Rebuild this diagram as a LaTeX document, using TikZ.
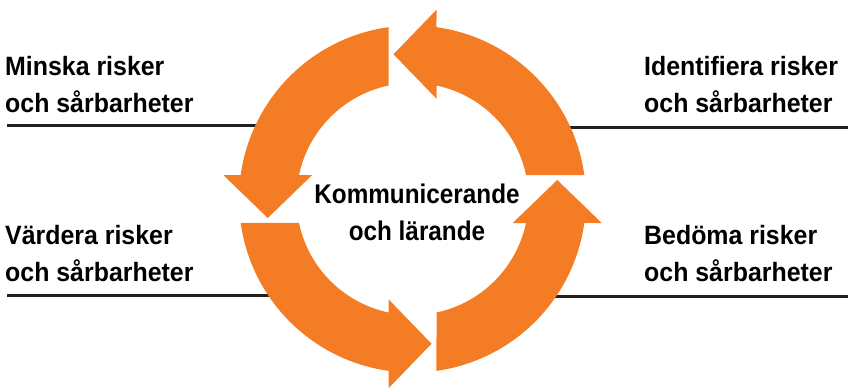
\documentclass[tikz,border=0pt]{standalone}
\usepackage{fontspec}
\newfontfamily\sidefont{Liberation Sans Bold}[FakeStretch=0.94]
\newfontfamily\midfont{Liberation Sans Bold}[FakeStretch=0.9]
\definecolor{ringorange}{RGB}{244,124,36}
\definecolor{rulecol}{RGB}{35,31,32}
\tikzset{
  rulestyle/.style={draw=rulecol, line width=3pt},
  sidelabel/.style={inner sep=0pt, align=left, font=\sidefont\fontsize{26.5}{37}\selectfont},
  midlabel/.style={inner sep=0pt, align=center, font=\midfont\fontsize{27}{37}\selectfont},
  ringpart/.style={fill=ringorange}
}
\begin{document}
\begin{tikzpicture}[x=1pt,y=-1pt]
\useasboundingbox (0,0) rectangle (852,388);
% rules
\coordinate (ltA) at (7,125.5);   \coordinate (ltB) at (300,125.5);
\coordinate (rtA) at (530,127);   \coordinate (rtB) at (848,127);
\coordinate (lbA) at (7,295.5);   \coordinate (lbB) at (310,295.5);
\coordinate (rbA) at (520,296);   \coordinate (rbB) at (848,296);
\draw[rulestyle] (ltA) -- (ltB);
\draw[rulestyle] (rtA) -- (rtB);
\draw[rulestyle] (lbA) -- (lbB);
\draw[rulestyle] (rbA) -- (rbB);
% ring of four arrows
\begin{scope}[shift={(412.5,199)}]
\foreach \a in {0,90,180,270}{
  \fill[ringpart, rotate=\a]
    (7.95:173.5pt) arc[start angle=7.95, end angle=82.05, radius=173.5pt]
    -- (24pt,189.25pt) -- (-19pt,144.75pt) -- (24pt,100.25pt)
    -- (78.06:116pt) arc[start angle=78.06, end angle=11.94, radius=116pt]
    -- cycle;
}
\end{scope}
% labels (base anchor = baseline of the last line)
\node[sidelabel, anchor=base west] (minska) at (5,112.5) {Minska risker\\och sårbarheter};
\node[sidelabel, anchor=base west] (ident) at (644,112.5) {Identifiera risker\\och sårbarheter};
\node[sidelabel, anchor=base west] (vard) at (5,281) {Värdera risker\\och sårbarheter};
\node[sidelabel, anchor=base west] (bedom) at (644,281) {Bedöma risker\\och sårbarheter};
\node[midlabel, anchor=base] (komm) at (417,240) {Kommunicerande\\och lärande};
\end{tikzpicture}
\end{document}
